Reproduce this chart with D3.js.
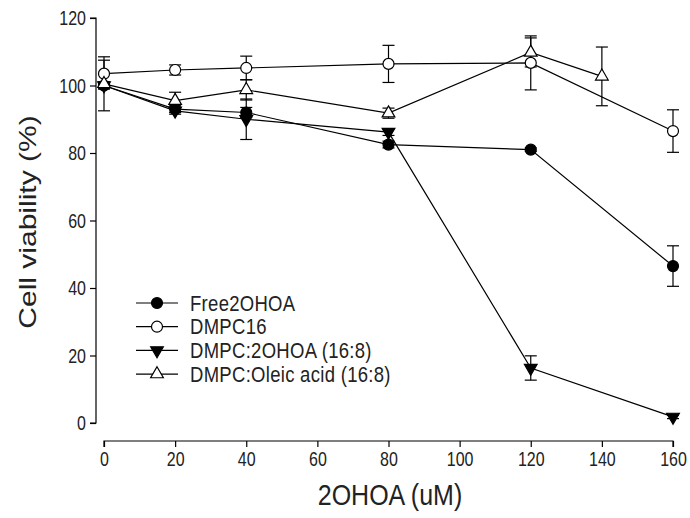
<!DOCTYPE html>
<html>
<head>
<meta charset="utf-8">
<script src="https://cdn.jsdelivr.net/npm/d3@7"></script>
<style>
  body { margin: 0; background: #fff; }
  text { font-family: "Liberation Sans", Arial, sans-serif; fill: #222; }
</style>
</head>
<body>
<div id="chart"></div>
<script>
// doses (uM)
const doses = [0, 20, 40, 80, 120, 160];
const dosesOleic = [0, 20, 40, 80, 120, 140];

// cell viability (%) and error bars
const free2ohoa = [100, 93, 92, 82.5, 81, 46.5];
const free2ohoaErr = [1, 1, 1.5, 1, 0.5, 6];
const dmpc16 = [103.5, 104.6, 105.2, 106.4, 106.7, 86.5];
const dmpc16Err = [4, 1.5, 3.5, 5.5, 8, 6.3];
const dmpc2ohoa = [100, 92.5, 90, 86.2, 16.3, 1.8];
const dmpc2ohoaErr = [1, 1, 6, 1, 3.6, 0.5];
const oleic = [100.5, 95.5, 98.7, 91.8, 109.8, 102.7];
const oleicErr = [8, 2.5, 3, 1.5, 4.3, 8.7];

const seriesNames = ["Free2OHOA", "DMPC16", "DMPC:2OHOA (16:8)", "DMPC:Oleic acid (16:8)"];
const xTicks = [0, 20, 40, 60, 80, 100, 120, 140, 160];
const yTicks = [0, 20, 40, 60, 80, 100, 120];

const width = 690, height = 518;
// the original picture is a little stretched vertically, text too
const stretch = 1.3;

const series = [
  {name: seriesNames[0], x: doses, y: free2ohoa, err: free2ohoaErr, symbol: d3.symbolCircle, size: 95, fill: "#000", rotate: 0},
  {name: seriesNames[1], x: doses, y: dmpc16, err: dmpc16Err, symbol: d3.symbolCircle, size: 95, fill: "#fff", rotate: 0},
  {name: seriesNames[2], x: doses, y: dmpc2ohoa, err: dmpc2ohoaErr, symbol: d3.symbolTriangle, size: 70, fill: "#000", rotate: 180},
  {name: seriesNames[3], x: dosesOleic, y: oleic, err: oleicErr, symbol: d3.symbolTriangle, size: 70, fill: "#fff", rotate: 0}
];

const svg = d3.select("#chart")
  .append("svg")
  .attr("width", width)
  .attr("height", height);

const x = d3.scaleLinear().domain([0, 160]).range([104, 673]);
const y = d3.scaleLinear().domain([0, 120]).range([423, 18]);

// Y axis
const yAxis = svg.append("g")
  .attr("transform", "translate(96,0)")
  .call(d3.axisLeft(y).tickValues(yTicks).tickSize(6).tickPadding(4));
yAxis.select(".domain").attr("stroke", "#000").attr("stroke-width", 1.2).attr("d", `M-6,${y(120)}H0V${y(0)}H-6`);
yAxis.selectAll(".tick line").attr("stroke", "#000").attr("stroke-width", 1.2);
yAxis.selectAll(".tick text")
  .attr("font-size", "16px").attr("fill", "#222")
  .attr("font-family", "Liberation Sans")
  .attr("transform", `scale(1,${stretch})`);

// X axis
const xAxis = svg.append("g")
  .attr("transform", "translate(0,441)")
  .call(d3.axisBottom(x).tickValues(xTicks).tickSize(6).tickPadding(6));
xAxis.select(".domain").attr("stroke", "#000").attr("stroke-width", 1.2).attr("d", `M${x(0)},6V0H${x(160)}V6`);
xAxis.selectAll(".tick line").attr("stroke", "#000").attr("stroke-width", 1.2);
xAxis.selectAll(".tick text")
  .attr("font-size", "16px").attr("fill", "#222")
  .attr("font-family", "Liberation Sans")
  .attr("y", 0)
  .attr("transform", `translate(0,10) scale(1,${stretch})`);

// Axis titles
svg.append("text")
  .attr("transform", `translate(390,505) scale(1,${stretch - 0.1})`)
  .attr("text-anchor", "middle")
  .attr("font-size", "25px")
  .text("2OHOA (uM)");

svg.append("text")
  .attr("transform", `translate(36,222) rotate(-90) scale(${stretch - 0.05},1)`)
  .attr("text-anchor", "middle")
  .attr("font-size", "24px")
  .text("Cell viability (%)");

const line = d3.line().x(d => x(d[0])).y(d => y(d[1]));

// Lines
series.forEach(s => {
  svg.append("path")
    .datum(s.x.map((v, i) => [v, s.y[i]]))
    .attr("fill", "none")
    .attr("stroke", "#000")
    .attr("stroke-width", 1.2)
    .attr("d", line);
});

// Error bars
series.forEach(s => {
  const g = svg.append("g").attr("stroke", "#000").attr("stroke-width", 1.2);
  s.x.forEach((v, i) => {
    const cx = x(v), top = y(s.y[i] + s.err[i]), bot = y(s.y[i] - s.err[i]);
    g.append("line").attr("x1", cx).attr("x2", cx).attr("y1", top).attr("y2", bot);
    g.append("line").attr("x1", cx - 6).attr("x2", cx + 6).attr("y1", top).attr("y2", top);
    g.append("line").attr("x1", cx - 6).attr("x2", cx + 6).attr("y1", bot).attr("y2", bot);
  });
});

// Markers
series.forEach(s => {
  const sym = d3.symbol().type(s.symbol).size(s.size);
  s.x.forEach((v, i) => {
    svg.append("path")
      .attr("d", sym)
      .attr("transform", `translate(${x(v)},${y(s.y[i])}) rotate(${s.rotate})`)
      .attr("fill", s.fill)
      .attr("stroke", "#000")
      .attr("stroke-width", 1.2);
  });
});

// Legend
const legend = svg.append("g");
series.forEach((s, i) => {
  const ly = 303 + i * 23.7;
  legend.append("line")
    .attr("x1", 136).attr("x2", 178)
    .attr("y1", ly).attr("y2", ly)
    .attr("stroke", "#000").attr("stroke-width", 1.2);
  legend.append("path")
    .attr("d", d3.symbol().type(s.symbol).size(s.size))
    .attr("transform", `translate(157,${ly}) rotate(${s.rotate})`)
    .attr("fill", s.fill)
    .attr("stroke", "#000")
    .attr("stroke-width", 1.2);
  legend.append("text")
    .attr("transform", `translate(190,${ly + 7.5}) scale(1,1.15)`)
    .attr("font-size", "18.5px")
    .attr("letter-spacing", "0.3px")
    .text(s.name);
});
</script>
</body>
</html>
